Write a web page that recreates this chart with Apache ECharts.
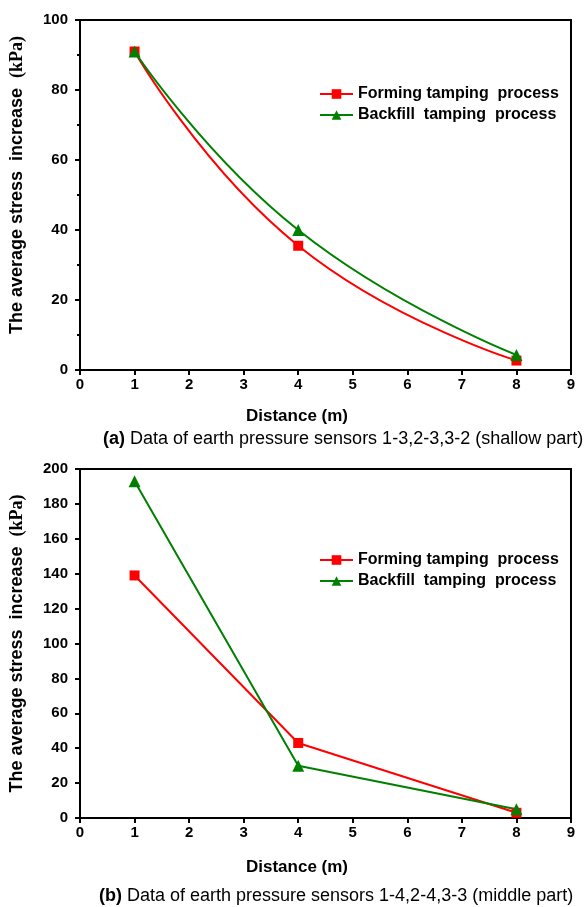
<!DOCTYPE html>
<html>
<head>
    <meta charset="utf-8" />
    <script src="https://cdn.jsdelivr.net/npm/echarts@6.0.0/dist/echarts.min.js"></script>
    <title>Average stress increase vs distance</title>
    <style>
        body { margin: 0; background: #fff; }
        #main { width: 588px; height: 907px; }
    </style>
</head>
<body>
    <div id="main"></div>
    <script type="text/javascript">
        // distances (m)
        var distances = [1, 4, 8];
        // (a) shallow part
        var shallowForming = [91, 35.5, 2.7];
        var shallowBackfill = [91, 40, 4.3];
        // (b) middle part
        var middleForming = [139, 43, 3];
        var middleBackfill = [193, 30, 5];

        var seriesNames = ['Forming tamping  process', 'Backfill  tamping  process'];
        var xTicks = [0, 1, 2, 3, 4, 5, 6, 7, 8, 9];
        var captionA = ['(a)', ' Data of earth pressure sensors 1-3,2-3,3-2 (shallow part)'];
        var captionB = ['(b)', ' Data of earth pressure sensors 1-4,2-4,3-3 (middle part)'];
        var xTitle = 'Distance (m)';
        var yTitle = ['The average stress  increase  ', '(kPa)'];

        var RED = '#ff0000';
        var GREEN = '#008000';
        var FONT = 'Liberation Sans, Arial, sans-serif';

        function pairs(xs, ys) {
            return xs.map(function (x, i) { return [x, ys[i]]; });
        }

        function makeXAxis(gridIndex) {
            return {
                type: 'value',
                gridIndex: gridIndex,
                min: xTicks[0],
                max: xTicks[xTicks.length - 1],
                interval: 1,
                axisLine: { show: true, onZero: false, lineStyle: { color: '#000', width: 2 } },
                axisTick: { show: true, inside: false, length: 5, lineStyle: { color: '#000', width: 2 } },
                axisLabel: { color: '#000', fontFamily: FONT, fontWeight: 'bold', fontSize: 15, margin: 7 },
                splitLine: { show: false }
            };
        }

        function makeYAxis(gridIndex, max, interval, minor, shift) {
            return {
                type: 'value',
                gridIndex: gridIndex,
                min: 0,
                max: max,
                interval: interval,
                name: '{a|' + yTitle[0] + '}{b|' + yTitle[1] + '}',
                nameLocation: 'middle',
                nameGap: 54,
                nameRotate: 90,
                nameTextStyle: {
                    padding: [0, 0, 0, shift],
                    rich: {
                        a: { fontFamily: FONT, fontWeight: 'bold', fontSize: 18, color: '#000' },
                        b: { fontFamily: 'Liberation Serif, Times New Roman, serif', fontWeight: 'bold', fontSize: 18, color: '#000' }
                    }
                },
                axisLine: { show: true, onZero: false, lineStyle: { color: '#000', width: 2 } },
                axisTick: { show: true, inside: false, length: 5, lineStyle: { color: '#000', width: 2 } },
                minorTick: { show: minor, splitNumber: 2, length: 3, lineStyle: { color: '#000', width: 2 } },
                axisLabel: { color: '#000', fontFamily: FONT, fontWeight: 'bold', fontSize: 15, margin: 12 },
                splitLine: { show: false }
            };
        }

        function makeSeries(name, data, idx, color, symbol, size, smooth) {
            return {
                name: name,
                type: 'line',
                xAxisIndex: idx,
                yAxisIndex: idx,
                data: data,
                smooth: smooth,
                symbol: symbol,
                symbolSize: size,
                showAllSymbol: true,
                lineStyle: { color: color, width: 2 },
                itemStyle: { color: color },
                emphasis: { disabled: true }
            };
        }

        function makeLegend(top) {
            return {
                orient: 'vertical',
                left: 314,
                top: top,
                itemWidth: 33,
                itemHeight: 12,
                itemGap: 5,
                data: [
                    { name: seriesNames[0] },
                    { name: seriesNames[1] }
                ],
                textStyle: { color: '#000', fontFamily: FONT, fontWeight: 'bold', fontSize: 16 },
                selectedMode: false
            };
        }

        function caption(parts, left, top) {
            return {
                type: 'text',
                left: left,
                top: top,
                style: {
                    text: '{a|' + parts[0] + '}{b|' + parts[1] + '}',
                    rich: {
                        a: { fontFamily: FONT, fontWeight: 'bold', fontSize: 18, fill: '#000' },
                        b: { fontFamily: FONT, fontSize: 18, fill: '#000' }
                    }
                }
            };
        }

        function axisTitle(left, top) {
            return {
                type: 'text',
                left: left,
                top: top,
                style: { text: xTitle, fontFamily: FONT, fontWeight: 'bold', fontSize: 17, fill: '#000' }
            };
        }

        var chart = echarts.init(document.getElementById('main'), null, { renderer: 'canvas' });
        var option = {
            backgroundColor: '#fff',
            animation: false,
            grid: [
                { left: 77, right: 17, top: 20, height: 350, show: true, borderColor: '#000', borderWidth: 2, backgroundColor: 'transparent' },
                { left: 77, right: 17, top: 469, height: 349, show: true, borderColor: '#000', borderWidth: 2, backgroundColor: 'transparent' }
            ],
            xAxis: [makeXAxis(0), makeXAxis(1)],
            yAxis: [makeYAxis(0, 100, 20, true, 20), makeYAxis(1, 200, 20, false, 0)],
            legend: [
                Object.assign(makeLegend(81), { seriesIndex: [0, 1] }),
                Object.assign(makeLegend(547), { seriesIndex: [2, 3] })
            ],
            series: [
                makeSeries(seriesNames[0], pairs(distances, shallowForming), 0, RED, 'rect', 10, true),
                makeSeries(seriesNames[1], pairs(distances, shallowBackfill), 0, GREEN, 'triangle', 12, true),
                makeSeries(seriesNames[0], pairs(distances, middleForming), 1, RED, 'rect', 10, false),
                makeSeries(seriesNames[1], pairs(distances, middleBackfill), 1, GREEN, 'triangle', 12, false)
            ],
            graphic: [
                axisTitle(246, 408),
                caption(captionA, 103, 430),
                axisTitle(246, 859),
                caption(captionB, 99, 887)
            ]
        };
        chart.setOption(option);
    </script>
</body>
</html>
